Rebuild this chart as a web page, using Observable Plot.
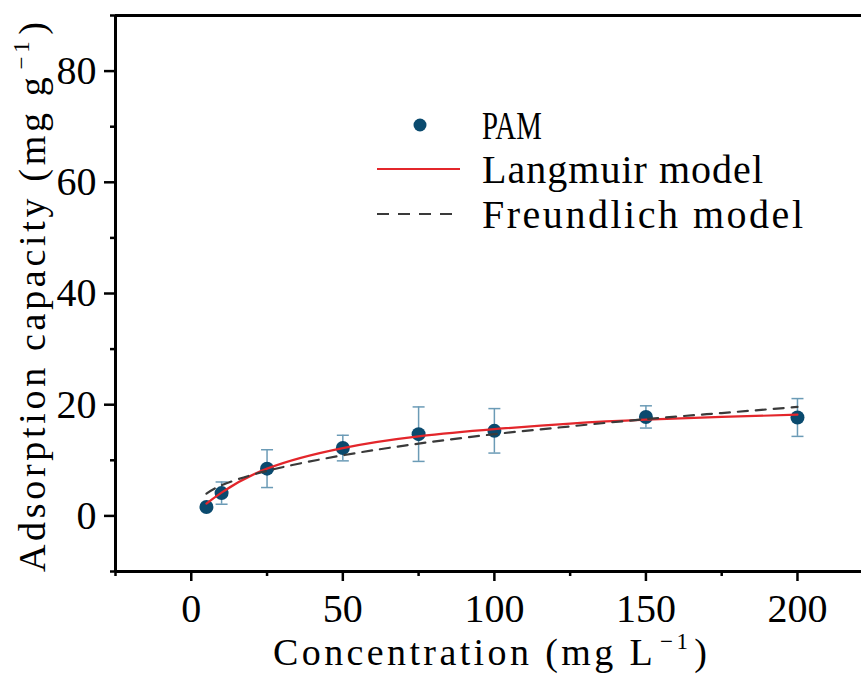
<!DOCTYPE html>
<html>
<head>
<meta charset="utf-8">
<script src="https://cdn.jsdelivr.net/npm/d3@7"></script>
<script src="https://cdn.jsdelivr.net/npm/@observablehq/plot@0.6"></script>
<style>
  html, body { margin: 0; padding: 0; background: #fff; overflow: hidden; }
  #chart svg { display: block; }
</style>
</head>
<body>
<div id="chart"></div>
<script>
// ---- data ----
const concentration = [5, 10, 25, 50, 75, 100, 150, 200];
const capacity      = [1.6, 4.1, 8.5, 12.2, 14.7, 15.3, 17.8, 17.7];
const capacityError = [0.4, 2.0, 3.4, 2.3, 4.9, 4.0, 2.0, 3.4];

const modelConcentration = [5, 10, 25, 50, 75, 100, 125, 150, 175, 200];
const langmuirFit   = [2.2, 4.2, 8.5, 12.2, 14.3, 15.6, 16.6, 17.3, 17.8, 18.2];
const freundlichFit = [4.0, 5.5, 8.1, 10.9, 13.0, 14.7, 16.1, 17.4, 18.5, 19.6];

const xDomain = [-25, 225];
const yDomain = [-10, 90];
const xTicks = [0, 50, 100, 150, 200];
const xMinorTicks = [-25, 25, 75, 125, 175, 225];
const yTicks = [0, 20, 40, 60, 80];
const yMinorTicks = [-10, 10, 30, 50, 70, 90];

const xLabelMain = "Concentration (mg L";
const yLabelMain = "Adsorption capacity (mg g";
const unitExponent = "\u22121";
const legendLabels = ["PAM", "Langmuir model", "Freundlich model"];

// ---- tables ----
const points = concentration.map((c, i) => ({
  c, q: capacity[i], lo: capacity[i] - capacityError[i], hi: capacity[i] + capacityError[i]
}));
const langmuir = modelConcentration.map((c, i) => ({c, q: langmuirFit[i]}));
const freundlich = modelConcentration.map((c, i) => ({c, q: freundlichFit[i]}));

const dotColor = "#0a4a6e";
const errColor = "#6b9bb6";
const redColor = "#e3262b";
const dashColor = "#3a3a3a";
const serifFont = "'Liberation Serif', 'DejaVu Serif', serif";

const capSymbol = {draw(ctx) { ctx.moveTo(-6, 0); ctx.lineTo(6, 0); }};

const chart = Plot.plot({
  width: 861,
  height: 674,
  marginLeft: 115,
  marginRight: -11.75,
  marginTop: 15,
  marginBottom: 103,
  style: {fontFamily: serifFont, fontSize: "40px", background: "#fff", color: "#000"},
  x: {domain: xDomain},
  y: {domain: yDomain},
  marks: [
    Plot.axisX(xTicks, {tickSize: 10, tickPadding: 12, strokeWidth: 2.5, fontSize: 40, fontFamily: serifFont, label: null}),
    Plot.axisX(xMinorTicks, {tickSize: 5, text: null, strokeWidth: 2.5, label: null}),
    Plot.axisY(yTicks, {tickSize: 11, tickPadding: 8, strokeWidth: 2.5, fontSize: 40, fontFamily: serifFont, label: null}),
    Plot.axisY(yMinorTicks, {tickSize: 5, text: null, strokeWidth: 2.5, label: null}),
    Plot.ruleY([yDomain[1]], {strokeWidth: 3}),
    Plot.ruleY([yDomain[0]], {strokeWidth: 3}),
    Plot.ruleX([xDomain[0]], {strokeWidth: 3}),
    Plot.ruleX(points, {x: "c", y1: "lo", y2: "hi", stroke: errColor, strokeWidth: 1.5}),
    Plot.dot(points, {x: "c", y: "hi", symbol: capSymbol, stroke: errColor, strokeWidth: 1.5, fill: "none"}),
    Plot.dot(points, {x: "c", y: "lo", symbol: capSymbol, stroke: errColor, strokeWidth: 1.5, fill: "none"}),
    Plot.dot(points, {x: "c", y: "q", r: 7, fill: dotColor, stroke: "none"}),
    Plot.line(langmuir, {x: "c", y: "q", stroke: redColor, strokeWidth: 2.2, curve: "natural"}),
    Plot.line(freundlich, {x: "c", y: "q", stroke: dashColor, strokeWidth: 2.2, strokeDasharray: "10,8", curve: "natural"})
  ]
});

const svg = d3.select(chart);

// ---- axis titles (spaced out like the original's fixed-width glyphs) ----
function title(g, main, transform, length) {
  const t = g.append("text")
    .attr("transform", transform)
    .attr("text-anchor", "start")
    .attr("font-family", serifFont)
    .attr("font-size", 38)
    .attr("fill", "#000")
    .attr("textLength", length)
    .attr("lengthAdjust", "spacing");
  t.append("tspan").text(main);
  t.append("tspan").attr("font-size", 23).attr("dy", -16).attr("dx", 4).text(unitExponent);
  t.append("tspan").attr("dy", 16).attr("dx", 3).text(")");
  return t;
}
const titles = svg.append("g").attr("aria-label", "axis titles");
title(titles, xLabelMain, "translate(273,665)", 434);
title(titles, yLabelMain, "translate(45,572) rotate(-90)", 550);

// ---- legend (inside plot area, top) ----
const lg = svg.append("g").attr("aria-label", "legend");
lg.append("circle").attr("cx", 420).attr("cy", 125).attr("r", 6.5).attr("fill", dotColor);
lg.append("line").attr("x1", 377).attr("x2", 460).attr("y1", 169).attr("y2", 169)
  .attr("stroke", redColor).attr("stroke-width", 2);
lg.append("line").attr("x1", 377).attr("x2", 460).attr("y1", 214).attr("y2", 214)
  .attr("stroke", dashColor).attr("stroke-width", 2).attr("stroke-dasharray", "12,9");
const legendY = [139, 183, 228];
const legendLen = [null, 281, 321];
const legendScale = [0.72, 1, 1];
legendLabels.forEach((s, i) => {
  const t = lg.append("text")
    .attr("transform", `translate(482,${legendY[i]}) scale(${legendScale[i]},1)`)
    .attr("text-anchor", "start")
    .attr("font-family", serifFont)
    .attr("font-size", 40)
    .attr("fill", "#000")
    .text(s);
  if (legendLen[i]) t.attr("textLength", legendLen[i]).attr("lengthAdjust", "spacing");
});

document.getElementById("chart").appendChild(chart);
</script>
</body>
</html>
